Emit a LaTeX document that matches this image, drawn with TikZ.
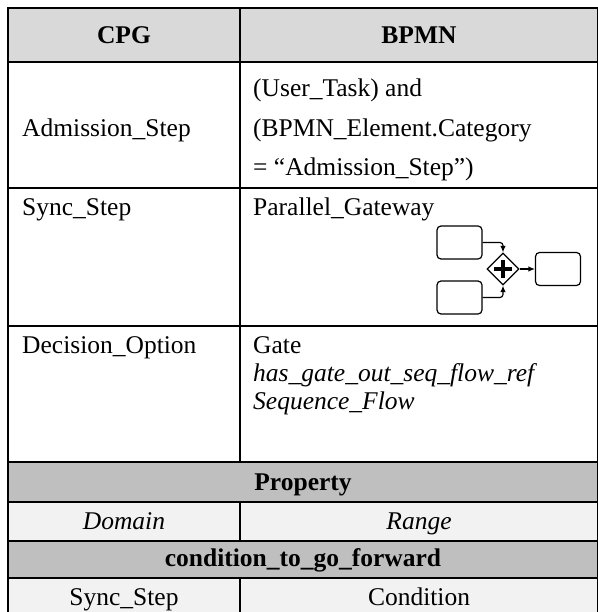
\documentclass[tikz,border=0pt]{standalone}
\usepackage{fontspec}
\setmainfont{Liberation Serif}
\usetikzlibrary{shapes.geometric,arrows.meta}

\definecolor{headgray}{HTML}{D9D9D9}
\definecolor{bandgray}{HTML}{BFBFBF}
\definecolor{palegray}{HTML}{F2F2F2}

\tikzset{
  rule/.style={line width=2pt, line cap=rect},
  lefttext/.style={inner sep=0pt, anchor=base west},
  midtext/.style={inner sep=0pt, anchor=base},
  taskbox/.style={draw, line width=1.2pt, rounded corners=4pt, fill=white,
    minimum width=45pt, minimum height=33pt, inner sep=0pt},
  gateway/.style={draw, diamond, line width=1.2pt, fill=white,
    minimum width=32pt, minimum height=32pt, inner sep=0pt},
  flow/.style={line width=1.2pt, rounded corners=3pt,
    -{Latex[length=6.5pt,width=5.5pt]}},
}

\begin{document}
\begin{tikzpicture}[x=1pt, y=-1pt, font=\fontsize{25.5}{31}\selectfont]
  \useasboundingbox (0,0) rectangle (597,612);

  % shaded bands
  \fill[headgray] (8,8) rectangle (598,62);
  \fill[bandgray] (8,462) rectangle (598,502);
  \fill[palegray] (8,502) rectangle (598,541);
  \fill[bandgray] (8,541) rectangle (598,578);
  \fill[palegray] (8,578) rectangle (598,620);

  % horizontal rules
  \foreach \yy in {8,62,188,326,462,502,541,578}
    \draw[rule] (8,\yy) -- (598,\yy);
  % vertical rules
  \draw[rule] (8,8) -- (8,620);
  \draw[rule] (598,8) -- (598,620);
  \draw[rule] (240,8) -- (240,462);
  \draw[rule] (240,502) -- (240,541);
  \draw[rule] (240,578) -- (240,620);

  % header
  \node[midtext] (hcpg)  at (124,44) {\bfseries CPG};
  \node[midtext] (hbpmn) at (419,44) {\bfseries BPMN};

  % Admission_Step row
  \node[lefttext] (adm)  at (22,137) {Admission\_Step};
  \node[lefttext] (adm1) at (253,97)  {(User\_Task) and};
  \node[lefttext] (adm2) at (253,137) {(BPMN\_Element.Category};
  \node[lefttext] (adm3) at (253,176) {= “Admission\_Step”)};

  % Sync_Step row
  \node[lefttext] (sync) at (22,215)  {Sync\_Step};
  \node[lefttext] (pgw)  at (253,215) {Parallel\_Gateway};

  % parallel gateway sketch
  \node[taskbox] (t1) at (459.5,242.5) {};
  \node[taskbox] (t2) at (459.5,297.5) {};
  \node[gateway] (gw) at (503,269) {};
  \node[taskbox] (t3) at (558,269) {};
  \draw[flow] (t1.east) -| (gw.north);
  \draw[flow] (t2.east) -| (gw.south);
  \draw[flow] (gw.east) -- (t3.west);
  \draw[line width=4pt] ([xshift=-9pt]gw.center) -- ([xshift=9pt]gw.center);
  \draw[line width=4pt] ([yshift=-9pt]gw.center) -- ([yshift=9pt]gw.center);

  % Decision_Option row
  \node[lefttext] (dec)  at (22,353)  {Decision\_Option};
  \node[lefttext] (gate) at (253,353) {Gate};
  \node[lefttext] (gref) at (253,381) {\itshape has\_gate\_out\_seq\_flow\_ref};
  \node[lefttext] (sflw) at (253,409) {\itshape Sequence\_Flow};

  % property block
  \node[midtext] (prop) at (303,490) {\bfseries Property};
  \node[midtext] (dom)  at (124,529) {\itshape Domain};
  \node[midtext] (rng)  at (419,529) {\itshape Range};
  \node[midtext] (cond) at (303,566) {\bfseries condition\_to\_go\_forward};
  \node[midtext] (dsyn) at (124,605) {Sync\_Step};
  \node[midtext] (rcnd) at (419,605) {Condition};
\end{tikzpicture}
\end{document}
